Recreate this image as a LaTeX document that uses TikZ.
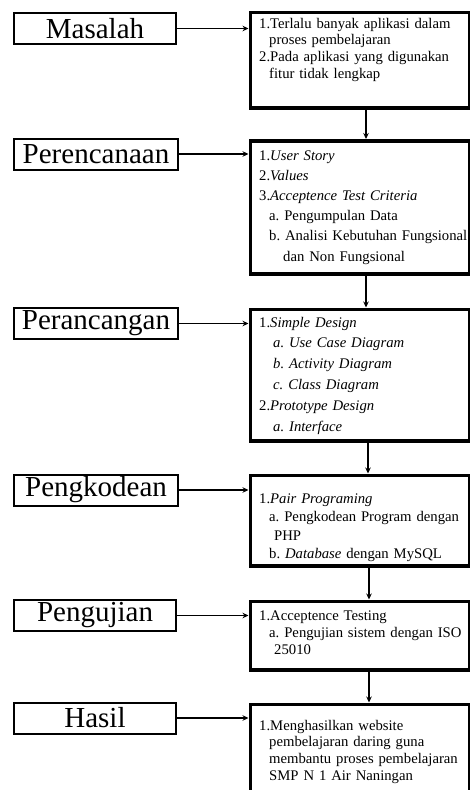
\documentclass[tikz,border=0pt]{standalone}
\usepackage{fontspec}
\setmainfont{Liberation Serif}
\usetikzlibrary{arrows.meta}

\tikzset{
  tahap/.style={draw, line width=2pt, minimum width=162pt, minimum height=31pt,
    inner sep=0pt, font=\fontsize{29}{30}\selectfont},
  isi/.style={draw, line width=3.5pt, anchor=north west, minimum width=219.5pt,
    inner sep=0pt},
  teks/.style={anchor=base west, text width=260pt, align=left, inner sep=0pt,
    font=\fontsize{14.7}{#1}\selectfont\frenchspacing},
  panah/.style={->, line width=1.3pt}
}

\begin{document}
\begin{tikzpicture}[x=1pt, y=1pt, >={Stealth[length=6pt,width=5.5pt]}]
                    \useasboundingbox (0,0) rectangle (470,-790);
                    \clip (0,0) rectangle (470,-790);

                    % tahapan di kiri
                    \node[tahap] (masalah) at (95,-28.5) {Masalah};
                    \node[tahap, minimum width=164pt] (perencanaan) at (96,-154) {Perencanaan};
                    \node[tahap, minimum width=164pt] (perancangan) at (96,-323.5) {Perancangan};
                    \node[tahap, minimum width=164pt] (pengkodean) at (96,-490) {Pengkodean};
                    \node[tahap] (pengujian) at (95,-615.5) {Pengujian};
                    \node[tahap] (hasil) at (95,-718) {Hasil};

                    % kotak isi di kanan
                    \node[isi, minimum height=95.5pt] (isi1) at (248.5,-10.5) {};
                    \node[isi, minimum height=133pt] (isi2) at (248.5,-139) {};
                    \node[isi, minimum height=131.5pt] (isi3) at (248.5,-307.5) {};
                    \node[isi, minimum height=90.5pt] (isi4) at (248.5,-473.5) {};
                    \node[isi, minimum height=68.5pt] (isi5) at (248.5,-599.5) {};
                    \node[isi, minimum height=120pt] (isi6) at (248.5,-702.5) {};

                    \node[teks=16.7] (t1) at (259,-28) {1.Terlalu banyak aplikasi dalam\\
                        \hspace*{10pt}proses pembelajaran\\
                        2.Pada aplikasi yang digunakan\\
                        \hspace*{10pt}fitur tidak lengkap};
                    \node[teks=20.2] (t2) at (259,-160) {1.\textit{User Story}\\
                        2.\textit{Values}\\
                        3.\textit{Acceptence Test Criteria}\\
                        \hspace*{10pt}a. Pengumpulan Data\\
                        \hspace*{10pt}b. Analisi Kebutuhan Fungsional\\
                        \hspace*{24pt}dan Non Fungsional};
                    \node[teks=20.8] (t3) at (259,-327) {1.\textit{Simple Design}\\
                        \hspace*{14pt}\textit{a. Use Case Diagram}\\
                        \hspace*{14pt}\textit{b. Activity Diagram}\\
                        \hspace*{14pt}\textit{c. Class Diagram}\\
                        2.\textit{Prototype Design}\\
                        \hspace*{14pt}\textit{a. Interface}};
                    \node[teks=18.5] (t4) at (259,-503) {1.\textit{Pair Programing}\\
                        \hspace*{10pt}a. Pengkodean Program dengan\\
                        \hspace*{15pt}PHP\\
                        \hspace*{10pt}b. \textit{Database} dengan MySQL};
                    \node[teks=17] (t5) at (259,-620) {1.Acceptence Testing\\
                        \hspace*{10pt}a. Pengujian sistem dengan ISO\\
                        \hspace*{15pt}25010};
                    \node[teks=16.7] (t6) at (259,-730) {1.Menghasilkan website\\
                        \hspace*{10pt}pembelajaran daring guna\\
                        \hspace*{10pt}membantu proses pembelajaran\\
                        \hspace*{10pt}SMP N 1 Air Naningan};

                    % panah ke kanan
                    \draw[panah] (masalah.east) -- (masalah.east -| isi1.west);
                    \draw[panah] (perencanaan.east) -- (perencanaan.east -| isi2.west);
                    \draw[panah] (perancangan.east) -- (perancangan.east -| isi3.west);
                    \draw[panah] (pengkodean.east) -- (pengkodean.east -| isi4.west);
                    \draw[panah] (pengujian.east) -- (pengujian.east -| isi5.west);
                    \draw[panah] (hasil.east) -- (hasil.east -| isi6.west);

                    % panah ke bawah
                    \draw[panah] ([xshift=6pt]isi1.south) -- ([xshift=6pt]isi2.north);
                    \draw[panah] ([xshift=6pt]isi2.south) -- ([xshift=6pt]isi3.north);
                    \draw[panah] ([xshift=8pt]isi3.south) -- ([xshift=8pt]isi4.north);
                    \draw[panah] ([xshift=9pt]isi4.south) -- ([xshift=9pt]isi5.north);
                    \draw[panah] ([xshift=9pt]isi5.south) -- ([xshift=9pt]isi6.north);
                \end{tikzpicture}
\end{document}
